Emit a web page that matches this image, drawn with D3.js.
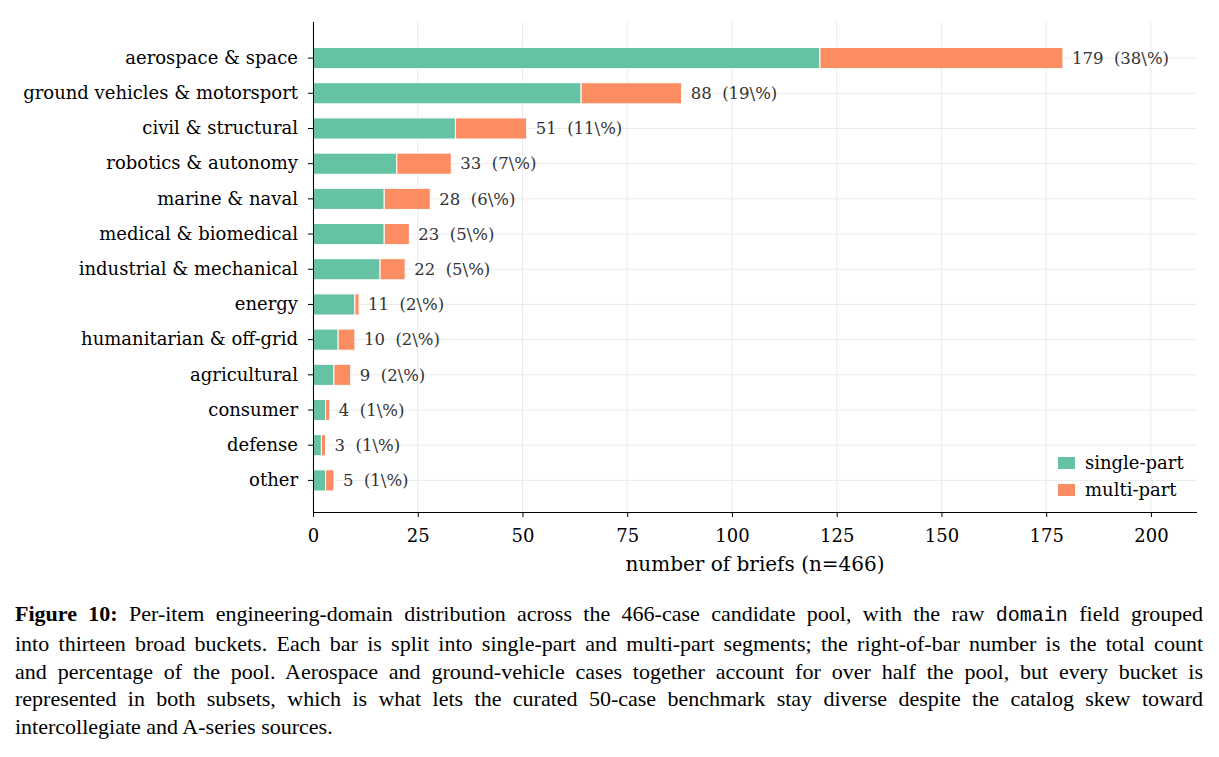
<!DOCTYPE html>
<html lang="en">
<head>
<meta charset="utf-8">
<title>Engineering-domain distribution</title>
<script src="https://cdnjs.cloudflare.com/ajax/libs/d3/7.8.5/d3.min.js"></script>
<style>
  body { margin: 0; background: #fff; width: 1219px; height: 757px; position: relative; overflow: hidden; }
  svg { position: absolute; left: 0; top: 0; }
  #caption {
    position: absolute; left: 15px; top: 600px; width: 1188px;
    font-family: "Liberation Serif", "Times New Roman", serif;
    font-size: 22px; line-height: 27.8px; color: #000;
  }
  #caption .ln { display: block; text-align: justify; text-align-last: justify; white-space: nowrap; }
  #caption .ln.last { text-align-last: left; }
  #caption code { font-family: "Liberation Mono", "DejaVu Sans Mono", monospace; font-size: 20px; }
</style>
</head>
<body>
<div class="chart"></div>
<div id="caption">
  <span class="ln"><b>Figure 10:</b> Per-item engineering-domain distribution across the 466-case candidate pool, with the raw <code>domain</code> field grouped</span>
  <span class="ln">into thirteen broad buckets. Each bar is split into single-part and multi-part segments; the right-of-bar number is the total count</span>
  <span class="ln">and percentage of the pool. Aerospace and ground-vehicle cases together account for over half the pool, but every bucket is</span>
  <span class="ln">represented in both subsets, which is what lets the curated 50-case benchmark stay diverse despite the catalog skew toward</span>
  <span class="ln last">intercollegiate and A-series sources.</span>
</div>
<script>
// domain buckets, top to bottom
const domains = ['aerospace & space', 'ground vehicles & motorsport', 'civil & structural',
  'robotics & autonomy', 'marine & naval', 'medical & biomedical', 'industrial & mechanical',
  'energy', 'humanitarian & off-grid', 'agricultural', 'consumer', 'defense', 'other'];
const singlePart = [121, 64, 34, 20, 17, 17, 16, 10, 6, 5, 3, 2, 3];
const multiPart  = [58, 24, 17, 13, 11, 6, 6, 1, 4, 4, 1, 1, 2];
const pctLabels  = ['38', '19', '11', '7', '6', '5', '5', '2', '2', '2', '1', '1', '1'];
const xTicks = [0, 25, 50, 75, 100, 125, 150, 175, 200];
const seriesNames = ['single-part', 'multi-part'];
const colors = ['#66c2a5', '#fc8d62'];

const W = 1219, H = 757;
const pLeft = 313, pRight = 1197, pTop = 22, pBottom = 512;
const serif = '"DejaVu Serif", serif';

const svg = d3.select('.chart').append('svg').attr('width', W).attr('height', H);

const x = d3.scaleLinear().domain([0, 211]).range([pLeft, pRight]);
const y = d3.scaleBand().domain(domains).range([40.5, 498]).paddingInner(0.4).paddingOuter(0.2);

// grid
svg.append('g').selectAll('line').data(xTicks).enter().append('line')
  .attr('x1', d => x(d)).attr('x2', d => x(d)).attr('y1', pTop).attr('y2', pBottom)
  .attr('stroke', '#ebebeb').attr('stroke-width', 1);
svg.append('g').selectAll('line').data(domains).enter().append('line')
  .attr('x1', pLeft).attr('x2', pRight)
  .attr('y1', d => y(d) + y.bandwidth() / 2).attr('y2', d => y(d) + y.bandwidth() / 2)
  .attr('stroke', '#ebebeb').attr('stroke-width', 1);

// bars
const rows = domains.map((d, i) => ({ name: d, s: singlePart[i], m: multiPart[i], pct: pctLabels[i] }));
const g = svg.append('g');
g.selectAll('rect.s').data(rows).enter().append('rect').attr('class', 's')
  .attr('x', x(0)).attr('y', d => y(d.name))
  .attr('width', d => x(d.s) - x(0)).attr('height', y.bandwidth())
  .attr('fill', colors[0]).attr('stroke', '#fff').attr('stroke-width', 1);
g.selectAll('rect.m').data(rows).enter().append('rect').attr('class', 'm')
  .attr('x', d => x(d.s)).attr('y', d => y(d.name))
  .attr('width', d => x(d.s + d.m) - x(d.s)).attr('height', y.bandwidth())
  .attr('fill', colors[1]).attr('stroke', '#fff').attr('stroke-width', 1);

// value labels (two spaces between count and percentage)
g.selectAll('text.val').data(rows).enter().append('text').attr('class', 'val')
  .attr('x', d => x(d.s + d.m) + 9).attr('y', d => y(d.name) + y.bandwidth() / 2)
  .attr('dy', '0.35em')
  .style('font-family', serif).style('font-size', '16.5px').attr('fill', '#333')
  .text(d => (d.s + d.m) + '\u00a0\u00a0(' + d.pct + '\\%)');

// axes
const xAxis = svg.append('g').attr('transform', 'translate(0,' + pBottom + ')')
  .call(d3.axisBottom(x).tickValues(xTicks).tickSize(5).tickPadding(12).tickSizeOuter(0));
const yAxis = svg.append('g').attr('transform', 'translate(' + pLeft + ',0)')
  .call(d3.axisLeft(y).tickSize(5).tickPadding(10).tickSizeOuter(0));
yAxis.select('.domain').attr('d', 'M0.5,' + pTop + 'V' + pBottom);
xAxis.select('.domain').attr('d', 'M' + pLeft + ',0.5H' + pRight);
[xAxis, yAxis].forEach(a => {
  a.selectAll('text').style('font-family', serif).style('font-size', '18px').attr('fill', '#000');
  a.selectAll('line, path').attr('stroke', '#000');
});

svg.append('text')
  .attr('x', (pLeft + pRight) / 2).attr('y', 571).attr('text-anchor', 'middle')
  .style('font-family', serif).style('font-size', '20px')
  .text('number of briefs (n=466)');

// legend
const leg = svg.append('g').attr('transform', 'translate(1058,457)');
seriesNames.forEach((n, i) => {
  leg.append('rect').attr('x', 0).attr('y', i * 27).attr('width', 17).attr('height', 12).attr('fill', colors[i]);
  leg.append('text').attr('x', 27).attr('y', i * 27 + 6).attr('dy', '0.35em')
    .style('font-family', serif).style('font-size', '18px').text(n);
});
</script>
</body>
</html>
